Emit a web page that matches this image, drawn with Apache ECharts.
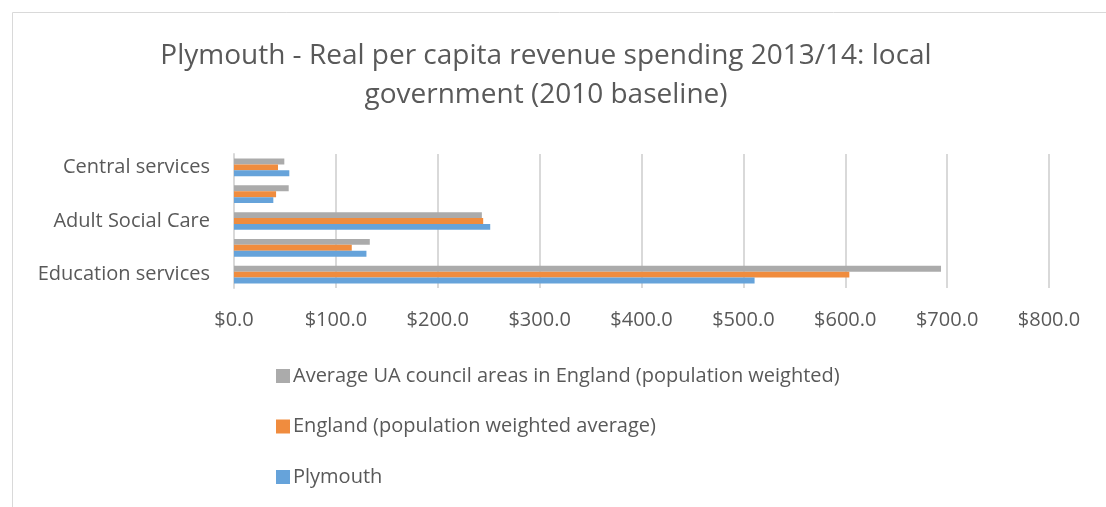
<!DOCTYPE html>
<html>
<head>
<meta charset="utf-8">
<script src="https://cdn.jsdelivr.net/npm/echarts@6/dist/echarts.min.js"></script>
<style>
  html, body { margin: 0; padding: 0; background: #fff; }
  #chart { width: 1106px; height: 507px; }
</style>
</head>
<body>
<div id="chart"></div>
<script>
// categories bottom -> top (Excel only shows every other label)
var categories = ['Education services', 'Children Social Care', 'Adult Social Care', 'Highways and transport services', 'Central services'];
var plymouth = [511, 130, 251.5, 38.6, 54.3];
var england = [604, 115.6, 244.6, 41.3, 43.2];
var averageUA = [694, 133.3, 243.3, 53.7, 49.4];
var xTicks = [0, 100, 200, 300, 400, 500, 600, 700, 800];

var font = "'Open Sans', sans-serif";
var textColor = '#595959';

var chart = echarts.init(document.getElementById('chart'));
chart.setOption({
  animation: false,
  title: {
    text: 'Plymouth - Real per capita revenue spending 2013/14: local\ngovernment (2010 baseline)',
    left: 541,
    top: 32,
    textAlign: 'center',
    textStyle: {
      fontFamily: font,
      fontWeight: 'normal',
      fontSize: 28,
      lineHeight: 39,
      color: textColor
    }
  },
  graphic: [{
    type: 'rect',
    shape: { x: 12.5, y: 12.5, width: 1200, height: 600 },
    style: { fill: 'none', stroke: '#d9d9d9', lineWidth: 1 },
    silent: true
  }],
  legend: {
    orient: 'vertical',
    left: 271,
    top: 361,
    itemWidth: 14,
    itemHeight: 14,
    itemGap: 30.5,
    icon: 'rect',
    data: ['Average UA council areas in England (population weighted)', 'England (population weighted average)', 'Plymouth'],
    textStyle: { fontFamily: font, fontSize: 20, color: textColor, padding: [0, 0, 0, -2] }
  },
  grid: { left: 234, right: 57, top: 154, bottom: 219 },
  xAxis: {
    type: 'value',
    min: xTicks[0],
    max: xTicks[xTicks.length - 1],
    interval: 100,
    axisLine: { show: false },
    axisTick: { show: false },
    splitLine: { lineStyle: { color: '#d9d9d9', width: 2 } },
    axisLabel: {
      margin: 22,
      fontFamily: font,
      fontSize: 20,
      color: textColor,
      formatter: function (v) { return '$' + v.toFixed(1); }
    }
  },
  yAxis: {
    type: 'category',
    data: categories,
    axisLine: { show: true, lineStyle: { color: '#d9d9d9', width: 2 } },
    axisTick: { show: false },
    axisLabel: { interval: 1, margin: 24, fontFamily: font, fontSize: 20, color: textColor }
  },
  series: [
    { name: 'Average UA council areas in England (population weighted)', type: 'bar', data: averageUA, itemStyle: { color: '#ABABAB' }, barGap: '0%', barCategoryGap: '34%' },
    { name: 'England (population weighted average)', type: 'bar', data: england, itemStyle: { color: '#F08C3E' }, barGap: '0%', barCategoryGap: '34%' },
    { name: 'Plymouth', type: 'bar', data: plymouth, itemStyle: { color: '#66A3DA' }, barGap: '0%', barCategoryGap: '34%' }
  ]
});
</script>
</body>
</html>
